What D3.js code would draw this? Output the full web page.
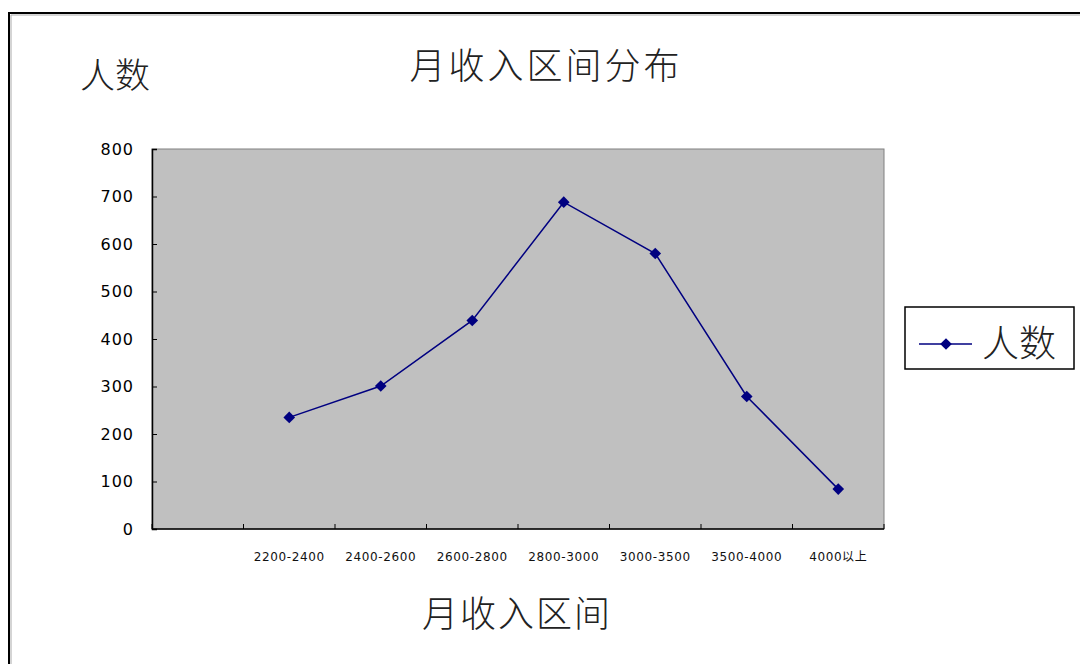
<!DOCTYPE html>
<html>
<head>
<meta charset="utf-8">
<script src="https://cdn.jsdelivr.net/npm/d3@7/dist/d3.min.js"></script>
<style>
  html, body { margin: 0; padding: 0; background: #fff; }
  svg { display: block; }
</style>
</head>
<body>
<svg id="chart" width="1080" height="664"></svg>
<script>
const categories = ["", "2200-2400", "2400-2600", "2600-2800", "2800-3000", "3000-3500", "3500-4000", "4000以上"];
const values = [null, 235, 301, 439, 688, 580, 279, 84];
const yTicks = [0, 100, 200, 300, 400, 500, 600, 700, 800];
const seriesName = "人数";
const titleText = "月收入区间分布";
const xTitle = "月收入区间";
const yTitle = "人数";

const svg = d3.select("#chart");
const cjk = "'Noto Sans CJK SC', 'Noto Sans', sans-serif";
const plot = { left: 152, top: 149, right: 884, bottom: 529 };

// outer chart border (left and top visible)
svg.append("path")
  .attr("d", "M9,664 L9,13 L1080,13")
  .attr("fill", "none").attr("stroke", "#000").attr("stroke-width", 2);
svg.append("path")
  .attr("d", "M11,664 L11,15 L1080,15")
  .attr("fill", "none").attr("stroke", "#aaa").attr("stroke-width", 1);

const x = d3.scaleBand().domain(categories.map((c, i) => i)).range([plot.left, plot.right]);
const y = d3.scaleLinear().domain([0, 800]).range([plot.bottom, plot.top]);

// plot area
svg.append("rect")
  .attr("x", plot.left).attr("y", plot.top)
  .attr("width", plot.right - plot.left).attr("height", plot.bottom - plot.top)
  .attr("fill", "#c0c0c0").attr("stroke", "#808080").attr("stroke-width", 1);

// y axis
const yAxis = svg.append("g")
  .attr("transform", `translate(${plot.left},0)`)
  .call(d3.axisLeft(y).tickValues(yTicks).tickSize(-5).tickPadding(18));
yAxis.select(".domain").attr("stroke", "#000").attr("stroke-width", 1.5);
yAxis.selectAll(".tick line").attr("stroke", "#000");
yAxis.selectAll("text")
  .attr("font-family", "'DejaVu Sans', sans-serif").attr("font-size", 16)
  .attr("letter-spacing", 1).attr("fill", "#000");

// x axis with ticks at band boundaries
const xAxisG = svg.append("g").attr("transform", `translate(0,${plot.bottom})`);
xAxisG.append("line")
  .attr("x1", plot.left).attr("x2", plot.right)
  .attr("stroke", "#000").attr("stroke-width", 1.5);
const boundaries = categories.map((c, i) => x(i)).concat([x.range()[1]]);
xAxisG.selectAll(".bt").data(boundaries).join("line")
  .attr("x1", d => d).attr("x2", d => d)
  .attr("y1", 0).attr("y2", -5)
  .attr("stroke", "#000");
xAxisG.selectAll(".xl").data(categories).join("text")
  .attr("x", (d, i) => x(i) + x.bandwidth() / 2)
  .attr("y", 32)
  .attr("text-anchor", "middle")
  .attr("font-family", "'DejaVu Sans', 'Noto Sans CJK SC', sans-serif")
  .attr("font-size", 12)
  .attr("letter-spacing", 0.6)
  .attr("fill", "#111")
  .text(d => d);

// line
const pts = values.map((v, i) => ({ i, v })).filter(d => d.v !== null);
const line = d3.line().x(d => x(d.i) + x.bandwidth() / 2).y(d => y(d.v));
svg.append("path").datum(pts)
  .attr("d", line).attr("fill", "none")
  .attr("stroke", "#000080").attr("stroke-width", 1.5);
const diamond = d3.symbol().type(d3.symbolSquare).size(68);
svg.selectAll(".pt").data(pts).join("path")
  .attr("transform", d => `translate(${x(d.i) + x.bandwidth() / 2},${y(d.v)}) rotate(45)`)
  .attr("d", diamond).attr("fill", "#000080");

// titles
svg.append("text").attr("x", 546).attr("y", 79)
  .attr("text-anchor", "middle").attr("font-family", cjk).attr("font-weight", 300)
  .attr("font-size", 36).attr("letter-spacing", 3).attr("fill", "#222").text(titleText);
svg.append("text").attr("x", 517).attr("y", 627)
  .attr("text-anchor", "middle").attr("font-family", cjk).attr("font-weight", 300)
  .attr("font-size", 36).attr("letter-spacing", 2).attr("fill", "#222").text(xTitle);
svg.append("text").attr("x", 80).attr("y", 88)
  .attr("font-family", cjk).attr("font-weight", 300)
  .attr("font-size", 35).attr("fill", "#222").text(yTitle);

// legend
const lg = svg.append("g");
lg.append("rect").attr("x", 905).attr("y", 307).attr("width", 169).attr("height", 62)
  .attr("fill", "#fff").attr("stroke", "#000").attr("stroke-width", 1.5);
lg.append("line").attr("x1", 919).attr("x2", 972).attr("y1", 344).attr("y2", 344)
  .attr("stroke", "#000080").attr("stroke-width", 1.5);
lg.append("path").attr("transform", "translate(946,344) rotate(45)").attr("d", diamond).attr("fill", "#000080");
lg.append("text").attr("x", 982).attr("y", 357)
  .attr("font-family", cjk).attr("font-weight", 300)
  .attr("font-size", 37).attr("fill", "#222").text(seriesName);
</script>
</body>
</html>
